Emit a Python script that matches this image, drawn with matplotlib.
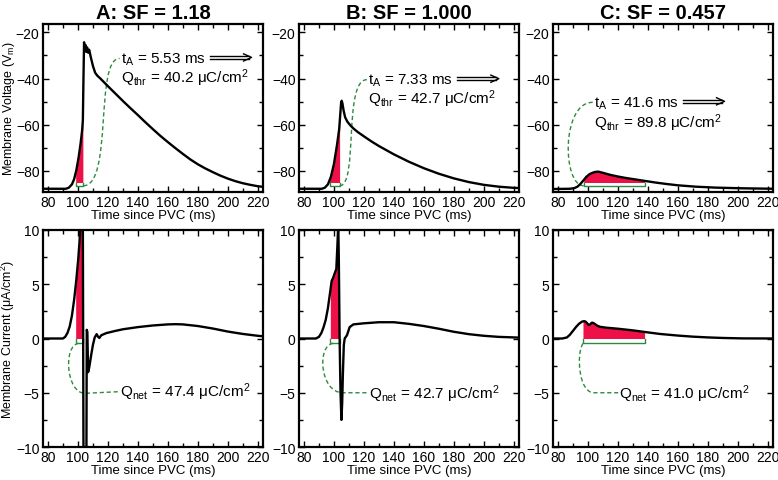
import numpy as np
import matplotlib.pyplot as plt
from matplotlib.path import Path
from matplotlib.patches import PathPatch, Rectangle
from matplotlib.lines import Line2D
from matplotlib.ticker import MultipleLocator

plt.rcParams['font.family'] = ['Liberation Sans', 'DejaVu Sans']
plt.rcParams['mathtext.fontset'] = 'custom'
plt.rcParams['mathtext.rm'] = 'Liberation Sans'
plt.rcParams['mathtext.it'] = 'Liberation Sans:italic'
plt.rcParams['mathtext.default'] = 'regular'

titles = ['A: SF = 1.18', 'B: SF = 1.000', 'C: SF = 0.457']
t_act = ['5.53', '7.33', '41.6']
q_thr = ['40.2', '42.7', '89.8']
q_net = ['47.4', '42.7', '41.0']

# membrane voltage traces (time ms, Vm mV)
vA_t = [77, 92, 94, 96, 97.5, 99, 100.5, 101.8, 102.8, 103.3, 103.7, 104.1, 104.6, 105.1, 105.6,
        106.1, 106.8, 107.5, 108.5, 110, 111.5, 113, 115, 120, 125, 130, 135, 140, 145, 150, 155,
        160, 165, 170, 175, 180, 185, 190, 195, 200, 205, 210, 215, 220, 224]
vA_v = [-87.7, -87.7, -87.2, -85.8, -83.5, -79.5, -74, -68, -62.5, -58, -40, -24.3, -27.5, -25.5, -28.5,
        -26.5, -28.8, -27.5, -30.5, -34.5, -37.5, -38.8, -40, -43.3, -46.5, -49.7, -52.8, -55.8, -58.9,
        -61.9, -64.8, -67.5, -70.1, -72.6, -75, -77.1, -78.9, -80.5, -82, -83.3, -84.4, -85.3, -86,
        -86.6, -86.9]
vB_t = [77, 92, 94, 96, 98, 100, 102, 103.5, 104.3, 104.8, 105.2, 105.7, 106.5, 107.5, 109, 111,
        113, 116, 120, 125, 130, 140, 150, 160, 170, 180, 190, 200, 210, 220, 224]
vB_v = [-87.7, -87.7, -87.2, -85.8, -82.5, -77, -69, -62, -55, -50.5, -49.6, -50.8, -54, -56.8,
        -58.7, -60.3, -61.6, -63.2, -65, -67.2, -69.2, -72.8, -76, -78.8, -81.2, -83.2, -84.8, -86,
        -86.8, -87.3, -87.4]
vC_t = [77, 88, 91, 93, 95, 97, 99, 101, 103, 105, 107, 110, 115, 120, 125, 130, 137, 145, 152,
        160, 172, 185, 203, 224]
vC_v = [-87.8, -87.7, -87.4, -86.8, -85.6, -84.1, -82.5, -81.4, -80.8, -80.4, -80.3, -80.8, -81.7,
        -82.4, -83, -83.5, -84.2, -85, -85.6, -86.2, -86.8, -87.2, -87.5, -87.7]

# membrane current traces (time ms, uA/cm2)
iA_t = [77, 90, 91.5, 93, 94.5, 96, 97.5, 99, 100.2, 101, 101.7, 102.9, 104.1, 105.3, 105.9, 106.3,
        106.8, 107.5, 109, 110, 111.2, 112.5, 113.5, 114.3, 115.6, 119, 125, 130, 140, 150, 160,
        165, 170, 180, 190, 200, 210, 220, 224]
iA_i = [0, 0, 0.15, 0.5, 1.1, 2.1, 3.6, 5.5, 7.3, 8.8, 10.5, 30, -30, -30, 0.8, 0.6,
        -3.1, -2.7, -1.4, -0.6, 0.1, 0.4, 0.15, 0.05, 0.3, 0.5, 0.7, 0.85, 1.05, 1.2, 1.3,
        1.32, 1.3, 1.15, 0.92, 0.64, 0.42, 0.25, 0.2]
iB_t = [77, 88, 90, 91.6, 93, 94.5, 96, 97.5, 98.5, 99.5, 100.5, 101.6, 102.3, 102.9, 103.3, 103.8,
        104.4, 105, 105.5, 106, 106.6, 107.2, 108.7, 110.5, 113, 120, 130, 140, 150, 160, 170,
        180, 190, 200, 210, 220, 224]
iB_i = [0, 0, 0.15, 0.5, 1.0, 1.7, 2.8, 4.3, 5.3, 5.6, 6.0, 6.4, 8.5, 10.6, 7, 0,
        -5, -7.5, -6, -3.2, -0.6, 0, 0.3, 1.05, 1.3, 1.4, 1.5, 1.5, 1.35, 1.15, 0.9,
        0.62, 0.4, 0.25, 0.15, 0.1, 0.08]
iC_t = [77, 83, 86, 88, 90, 92, 94, 96, 97.5, 98.5, 99.5, 100.5, 101.5, 102.5, 103.3, 104.5, 106,
        108, 112, 120, 130, 138, 148, 160, 170, 180, 190, 203, 224]
iC_i = [0, 0, 0.1, 0.35, 0.7, 1.05, 1.35, 1.55, 1.6, 1.55, 1.4, 1.25, 1.3, 1.45, 1.45, 1.35, 1.2,
        1.08, 1.0, 0.9, 0.75, 0.6, 0.42, 0.27, 0.17, 0.1, 0.05, 0.01, 0]

# integration windows (ms) and threshold levels
win_v = [(98.5, 103.3), (97.1, 103.8), (97.2, 137.8)]
win_i = [(98.5, 103.4), (97.6, 103.8), (96.7, 137.8)]
v_thr = -85.0
i_thr = 0.0

# annotation anchors (data coords)
tA_pos = [(128.5, -31.3), (122.7, -40.5), (103.8, -50.3)]
qthr_pos = [(128.5, -39.6), (122.7, -48.3), (103.8, -58.8)]
qnet_pos = [(128.0, -4.9), (123.5, -5.0), (120.8, -5.0)]
lead_v = [
    [(103.6, -86.4), (123.5, -86.4), (111.0, -31.3), (127.8, -31.3)],
    [(103.8, -86.4), (116.5, -86.4), (106.0, -40.5), (122.0, -40.5)],
    [(103.2, -50.3), (82.0, -50.3), (83.0, -86.4), (97.2, -86.4)],
]
lead_i = [
    [(100.5, -0.45), (90.0, -0.6), (92.0, -5.1), (105.0, -5.05), (127.4, -4.9)],
    [(99.5, -0.45), (88.5, -0.6), (90.5, -5.0), (106.0, -5.0), (122.9, -5.0)],
    [(96.7, -0.45), (92.0, -1.5), (94.0, -5.0), (104.0, -5.0), (120.2, -5.0)],
]

red = '#EE1148'
green = '#2E8B3E'

W, H = 778, 481
fig = plt.figure(figsize=(W / 100, H / 100), dpi=100)
lefts = [43, 299, 553]


def style(ax, ylim, major, minor):
    ax.set_xlim(76.7, 223.5)
    ax.set_ylim(*ylim)
    ax.xaxis.set_major_locator(MultipleLocator(20))
    ax.xaxis.set_minor_locator(MultipleLocator(10))
    ax.yaxis.set_major_locator(MultipleLocator(major))
    ax.yaxis.set_minor_locator(MultipleLocator(minor))
    ax.tick_params(which='both', direction='in', top=True, right=True, width=1.0,
                   labelsize=10, pad=2.5)
    ax.tick_params(which='major', length=4.5)
    ax.tick_params(which='minor', length=3)
    for s in ax.spines.values():
        s.set_linewidth(1.6)
    ax.set_xlabel('Time since PVC (ms)', fontsize=9.5, labelpad=0)


def window(t, y, a, b):
    t = np.asarray(t, float)
    y = np.asarray(y, float)
    inside = (t > a) & (t < b)
    tt = np.concatenate([[a], t[inside], [b]])
    yy = np.concatenate([[np.interp(a, t, y)], y[inside], [np.interp(b, t, y)]])
    return tt, yy


def bracket(ax, a, b, lo, hi):
    ax.add_patch(Rectangle((a, lo), b - a, hi - lo, fc='white', ec='none', zorder=2))
    ax.plot([a, a, b, b], [hi, lo, lo, hi], color=green, lw=1.0, zorder=3)


def leader(ax, pts):
    codes = [Path.MOVETO, Path.CURVE4, Path.CURVE4, Path.CURVE4]
    if len(pts) > 4:
        codes.append(Path.LINETO)
    ax.add_patch(PathPatch(Path(pts, codes), fill=False, ec=green, lw=1.0,
                           ls=(0, (3, 2)), zorder=3))


volts = [(vA_t, vA_v), (vB_t, vB_v), (vC_t, vC_v)]
currs = [(iA_t, iA_i), (iB_t, iB_i), (iC_t, iC_i)]
arrow_txts = []

for k, l in enumerate(lefts):
    ax1 = fig.add_axes([l / W, 1 - 193 / H, 220 / W, 168 / H])
    ax2 = fig.add_axes([l / W, 1 - 448 / H, 220 / W, 217 / H])
    style(ax1, (-89.1, -16.4), 20, 10)
    style(ax2, (-10, 10), 5, 2.5)
    ax1.set_title(titles[k], fontsize=14.5, fontweight='bold', pad=4)

    t, v = volts[k]
    a, b = win_v[k]
    tt, vv = window(t, v, a, b)
    ax1.fill_between(tt, v_thr, vv, color=red, lw=0, zorder=1)
    bracket(ax1, a, b, -86.4, v_thr)
    ax1.plot(t, v, color='black', lw=1.7, zorder=4)
    leader(ax1, lead_v[k])
    txt = ax1.text(*tA_pos[k], 't$_A$ = %s ms' % t_act[k], fontsize=11, va='center', zorder=5)
    arrow_txts.append((ax1, txt))
    ax1.text(*qthr_pos[k], 'Q$_{thr}$ = %s μC/cm$^2$' % q_thr[k], fontsize=11, va='center', zorder=5)

    t, c = currs[k]
    a, b = win_i[k]
    tt, cc = window(t, c, a, b)
    ax2.fill_between(tt, i_thr, cc, color=red, lw=0, zorder=1)
    bracket(ax2, a, b, -0.45, i_thr)
    ax2.plot(t, c, color='black', lw=1.7, zorder=4)
    leader(ax2, lead_i[k])
    ax2.text(*qnet_pos[k], 'Q$_{net}$ = %s μC/cm$^2$' % q_net[k], fontsize=11, va='center', zorder=5)

    if k == 0:
        ax1.set_ylabel('Membrane Voltage (V$_m$)', fontsize=9)
        ax2.set_ylabel('Membrane Current (μA/cm$^2$)', fontsize=9)
        ax1.yaxis.set_label_coords(-0.118, 0.5)
        ax2.yaxis.set_label_coords(-0.118, 0.5)

# long double arrows after the activation times
fig.canvas.draw()
for ax, txt in arrow_txts:
    bb = txt.get_window_extent()
    yc = ax.transData.transform(txt.get_position())[1] + 1
    x0 = bb.x1 + 4
    L = 42
    segs = [([x0, x0 + L - 3], [yc + 1.4, yc + 1.4]),
            ([x0, x0 + L - 3], [yc - 1.4, yc - 1.4]),
            ([x0 + L - 8, x0 + L, x0 + L - 8], [yc + 3.6, yc, yc - 3.6])]
    for xs, ys in segs:
        fig.add_artist(Line2D(np.array(xs) / W, np.array(ys) / H, transform=fig.transFigure,
                              color='black', lw=1.0))

fig.savefig('out.png', dpi=100)
